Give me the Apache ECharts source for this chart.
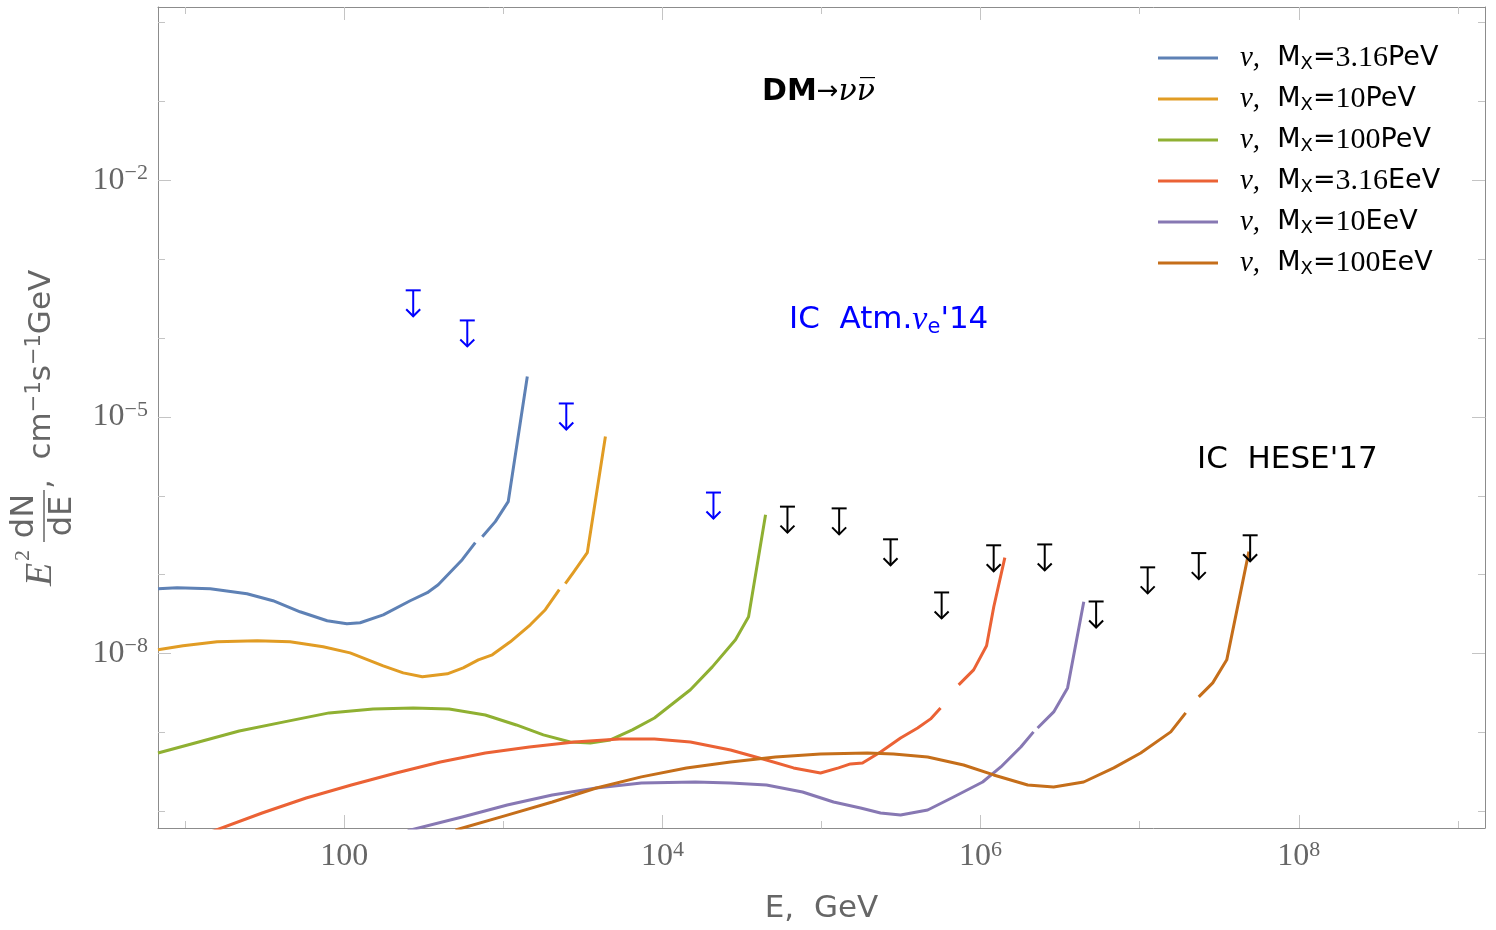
<!DOCTYPE html>
<html><head><meta charset="utf-8">
<script src="https://cdn.jsdelivr.net/npm/echarts@6/dist/echarts.min.js"></script>
<style>html,body{margin:0;padding:0;background:#fff}#c{width:1496px;height:930px}</style>
</head><body><div id="c"></div>
<script>
// ---------- data ----------
const massNum  = ['3.16', '10', '100', '3.16', '10', '100'];
const massUnit = ['PeV', 'PeV', 'PeV', 'EeV', 'EeV', 'EeV'];
const seriesNames = massNum.map((m, i) => 'ν, M_X=' + m + massUnit[i]);

// null marks a small break in a curve
const E_316PeV = [6.76, 8.91, 14.4, 24.5, 35.7, 52.8, 78.2, 104, 126, 176, 260, 333, 390, 552, 667, 700, 738, 891, 1074, 1416];
const F_316PeV = [6.64e-8, 6.84e-8, 6.64e-8, 5.74e-8, 4.68e-8, 3.39e-8, 2.61e-8, 2.39e-8, 2.46e-8, 3.10e-8, 4.68e-8, 5.92e-8, 7.46e-8, 1.55e-7, 2.55e-7, null, 3.03e-7, 4.71e-7, 8.43e-7, 3.26e-5];

const E_10PeV = [6.76, 9.71, 15.9, 28.4, 45.7, 73.8, 109, 176, 235, 310, 445, 560, 697, 853, 1107, 1479, 1837, 2249, 2350, 2455, 2754, 3373, 4385];
const F_10PeV = [1.117e-8, 1.256e-8, 1.413e-8, 1.452e-8, 1.413e-8, 1.219e-8, 1.023e-8, 7.0e-9, 5.70e-9, 5.08e-9, 5.55e-9, 6.61e-9, 8.34e-9, 9.66e-9, 1.413e-8, 2.32e-8, 3.60e-8, 6.46e-8, null, 7.69e-8, 1.06e-7, 1.90e-7, 5.64e-6];

const E_100PeV = [6.76, 11.56, 21.9, 42.0, 80.5, 152, 272, 457, 771, 1208, 1786, 2636, 3524, 4710, 6471, 8913, 15000, 20600, 28800, 34800, 44500];
const F_100PeV = [5.51e-10, 7.38e-10, 1.047e-9, 1.365e-9, 1.774e-9, 1.99e-9, 2.05e-9, 1.99e-9, 1.67e-9, 1.247e-9, 9.33e-10, 7.60e-10, 7.38e-10, 8.05e-10, 1.079e-9, 1.53e-9, 3.48e-9, 6.79e-9, 1.496e-8, 2.93e-8, 5.77e-7];

const E_316EeV = [14.1, 30.5, 57.7, 111, 212, 402, 771, 1459, 2799, 5370, 8913, 15000, 26800, 45100, 66700, 98600, 128000, 152000, 181000, 235000, 314000, 402000, 485000, 560000, 640000, 728000, 904000, 1.09e6, 1.21e6, 1.42e6];
const F_316EeV = [5.37e-11, 9.55e-11, 1.479e-10, 2.16e-10, 3.07e-10, 4.24e-10, 5.51e-10, 6.56e-10, 7.60e-10, 8.30e-10, 8.30e-10, 7.60e-10, 6.01e-10, 4.49e-10, 3.56e-10, 3.07e-10, 3.56e-10, 4.00e-10, 4.11e-10, 5.68e-10, 8.53e-10, 1.143e-9, 1.489e-9, 2.05e-9, null, 4.02e-9, 6.22e-9, 1.256e-8, 3.93e-8, 1.644e-7];

const E_10EeV = [251, 552, 1059, 2032, 3846, 7379, 16100, 26800, 45100, 76000, 119000, 176000, 235000, 314000, 465000, 676000, 1.03e6, 1.34e6, 1.79e6, 2.15e6, 2.21e6, 2.28e6, 2.88e6, 3.52e6, 4.45e6];
const F_10EeV = [5.70e-11, 8.49e-11, 1.205e-10, 1.614e-10, 1.982e-10, 2.29e-10, 2.36e-10, 2.29e-10, 2.16e-10, 1.762e-10, 1.315e-10, 1.104e-10, 9.55e-11, 8.99e-11, 1.042e-10, 1.524e-10, 2.36e-10, 3.66e-10, 6.56e-10, 1.019e-9, null, 1.143e-9, 1.824e-9, 3.68e-9, 4.54e-8];

const E_100EeV = [501, 1059, 2032, 3846, 7379, 14160, 26800, 51400, 98600, 194500, 283800, 464500, 781600, 1.208e6, 1.977e6, 2.877e6, 4.446e6, 6.871e6, 1.014e7, 1.567e7, 1.945e7, 2.14e7, 2.35e7, 2.877e7, 3.524e7, 4.853e7];
const F_100EeV = [5.81e-11, 8.99e-11, 1.315e-10, 1.982e-10, 2.74e-10, 3.56e-10, 4.24e-10, 4.90e-10, 5.35e-10, 5.51e-10, 5.35e-10, 4.90e-10, 3.88e-10, 2.90e-10, 2.16e-10, 2.04e-10, 2.36e-10, 3.56e-10, 5.51e-10, 1.019e-9, 1.774e-9, null, 2.83e-9, 4.26e-9, 8.34e-9, 1.96e-7];

// upper limits
const atmE  = [271.6, 594, 2489, 20940];
const atmF  = [4.02e-4, 1.67e-4, 1.48e-5, 1.10e-6];
const heseE = [61100, 129100, 271600, 568900, 1.208e6, 2.529e6, 5.321e6, 1.122e7, 2.350e7, 4.943e7];
const heseF = [7.29e-7, 6.93e-7, 2.81e-7, 5.96e-8, 2.36e-7, 2.42e-7, 4.58e-8, 1.24e-7, 1.88e-7, 3.16e-7];

// ticks
const xMajorTicks = [100, 1e4, 1e6, 1e8];
const xMinorTicks = [10, 1e3, 1e5, 1e7, 1e9];
const yMajorTicks = [1e-8, 1e-5, 1e-2];
const yMinorTicks = [1e-10, 1e-9, 1e-7, 1e-6, 1e-4, 1e-3, 1e-1, 1];

// ---------- style ----------
const colors = ['#5E81B5', '#E19C24', '#8FB032', '#EB6235', '#8778B3', '#C56E1A'];
const curves = [[E_316PeV, F_316PeV], [E_10PeV, F_10PeV], [E_100PeV, F_100PeV], [E_316EeV, F_316EeV], [E_10EeV, F_10EeV], [E_100EeV, F_100EeV]];
const X_MIN = Math.pow(10, 0.83), X_MAX = Math.pow(10, 9.17);
const Y_MIN = Math.pow(10, -10.21), Y_MAX = Math.pow(10, 0.195);
const frameColor = '#8c8c8c', tickColor = '#c4c4c4', labelColor = '#666666';
const SERIF = 'Liberation Serif', SANS = 'DejaVu Sans';

const supRich = {
  b: {fontFamily: SERIF, fontSize: 32, color: labelColor, lineHeight: 36},
  s: {fontFamily: SERIF, fontSize: 22, color: labelColor, lineHeight: 22, verticalAlign: 'top'}
};
function expOf(v) { return Math.round(Math.log10(v)); }

function mkAxis(kind, pos, ticks, len, showLine, label) {
  const isX = kind === 'x';
  return {
    type: 'log', logBase: 10, position: pos, gridIndex: 0,
    min: isX ? X_MIN : Y_MIN, max: isX ? X_MAX : Y_MAX,
    axisLine: {show: showLine, onZero: false, lineStyle: {color: frameColor, width: 1}},
    axisTick: {show: true, inside: true, length: len, customValues: ticks, lineStyle: {color: tickColor, width: 1}},
    minorTick: {show: false}, splitLine: {show: false}, minorSplitLine: {show: false},
    axisLabel: label || {show: false}
  };
}

const xLabel = {
  show: true, customValues: xMajorTicks, margin: 11,
  formatter: v => { const e = expOf(v); return e === 2 ? '{b|100}' : '{b|10}{s|' + e + '}'; },
  rich: supRich
};
const yLabel = {
  show: true, customValues: yMajorTicks, margin: 10,
  formatter: v => '{b|10}{s|−' + (-expOf(v)) + '}',
  rich: supRich
};

const xAxes = [
  Object.assign(mkAxis('x', 'bottom', xMajorTicks, 13, true, xLabel), {
    name: 'E,  GeV', nameLocation: 'middle', nameGap: 65,
    nameTextStyle: {fontFamily: SANS, fontSize: 31, color: labelColor}
  }),
  mkAxis('x', 'bottom', xMinorTicks, 7, false),
  mkAxis('x', 'top', xMajorTicks, 13, true),
  mkAxis('x', 'top', xMinorTicks, 7, false)
];
const yAxes = [
  mkAxis('y', 'left', yMajorTicks, 13, true, yLabel),
  mkAxis('y', 'left', yMinorTicks, 7, false),
  mkAxis('y', 'right', yMajorTicks, 13, true),
  mkAxis('y', 'right', yMinorTicks, 7, false)
];

const lineSeries = curves.map((c, i) => ({
  type: 'line', name: seriesNames[i],
  data: c[0].map((e, j) => [e, c[1][j] == null ? '-' : c[1][j]]),
  xAxisIndex: 0, yAxisIndex: 0,
  symbol: 'none', showSymbol: false, connectNulls: false, clip: true,
  lineStyle: {width: 3, color: colors[i], join: 'round', cap: 'butt'}, itemStyle: {color: colors[i]},
  emphasis: {disabled: true}, z: 3
}));

function arrowSeries(E, F, color, name) {
  return {
    type: 'custom', name: name, coordinateSystem: 'cartesian2d', xAxisIndex: 0, yAxisIndex: 0,
    data: E.map((e, i) => [e, F[i]]), encode: {x: 0, y: 1}, silent: true, z: 4,
    renderItem: (params, api) => {
      const p = api.coord([api.value(0), api.value(1)]);
      const x = p[0], y = p[1];
      const st = {stroke: color, lineWidth: 2, fill: null};
      return {type: 'group', children: [
        {type: 'line', shape: {x1: x - 7.5, y1: y, x2: x + 7.5, y2: y}, style: st},
        {type: 'line', shape: {x1: x, y1: y, x2: x, y2: y + 26}, style: st},
        {type: 'polyline', shape: {points: [[x - 7, y + 19], [x, y + 26], [x + 7, y + 19]]}, style: st}
      ]};
    }
  };
}

const legendRich = {
  nu:  {fontFamily: SERIF, fontStyle: 'italic', fontSize: 29, color: '#000', lineHeight: 30, padding: [0, 0, 0, 17]},
  m:   {fontFamily: SANS, fontSize: 27, color: '#000', lineHeight: 30},
  sub: {fontFamily: SANS, fontSize: 18, color: '#000', lineHeight: 18, verticalAlign: 'bottom'},
  num: {fontFamily: SERIF, fontSize: 30, color: '#000', lineHeight: 30}
};

const option = {
  animation: false,
  backgroundColor: '#ffffff',
  grid: {left: 158, top: 7, right: 11, bottom: 102, containLabel: false},
  xAxis: xAxes,
  yAxis: yAxes,
  legend: {
    orient: 'vertical', left: 1158, top: 43, padding: 0, itemWidth: 60, itemHeight: 3, itemGap: 11,
    icon: 'rect', selectedMode: false, data: seriesNames,
    formatter: name => {
      const i = seriesNames.indexOf(name);
      return '{nu|ν,}{m|  M}{sub|X}{m|=}{num|' + massNum[i] + '}{m|' + massUnit[i] + '}';
    },
    textStyle: {rich: legendRich}
  },
  series: lineSeries.concat([
    arrowSeries(atmE, atmF, '#0000ff', "IC Atm. νe'14"),
    arrowSeries(heseE, heseF, '#000000', "IC HESE'17")
  ]),
  graphic: [
    {type: 'text', x: 762, y: 92, style: {
      text: '{b|DM}{a|→}{n|νν\u0305}', verticalAlign: 'middle', align: 'left',
      rich: {
        b: {fontFamily: SANS, fontWeight: 'bold', fontSize: 30, fill: '#000', lineHeight: 36},
        a: {fontFamily: SANS, fontSize: 26, fill: '#000', lineHeight: 36},
        n: {fontFamily: 'DejaVu Serif', fontStyle: 'italic', fontSize: 30, fill: '#000', lineHeight: 36}
      }}},
    {type: 'text', x: 789, y: 320, style: {
      text: "{t|IC  Atm.}{n|ν}{e|e}{t|'14}", verticalAlign: 'middle', align: 'left',
      rich: {
        t: {fontFamily: SANS, fontSize: 31, fill: '#0000ff', lineHeight: 36},
        n: {fontFamily: SERIF, fontStyle: 'italic', fontSize: 34, fill: '#0000ff', lineHeight: 36},
        e: {fontFamily: SANS, fontSize: 21, fill: '#0000ff', lineHeight: 21, verticalAlign: 'bottom'}
      }}},
    {type: 'text', x: 1197, y: 460, style: {
      text: "IC  HESE'17", verticalAlign: 'middle', align: 'left',
      fontFamily: SANS, fontSize: 31, fill: '#000'}},
    {type: 'group', x: 53, y: 586, rotation: Math.PI / 2, children: [
      {type: 'text', x: 0, y: -12, style: {text: 'E', fontFamily: SERIF, fontStyle: 'italic', fontSize: 38, fill: labelColor, align: 'left', verticalAlign: 'middle'}},
      {type: 'text', x: 25, y: -30, style: {text: '2', fontFamily: SERIF, fontSize: 22, fill: labelColor, align: 'left', verticalAlign: 'middle'}},
      {type: 'text', x: 70, y: -28, style: {text: 'dN', fontFamily: SANS, fontSize: 32, fill: labelColor, align: 'center', verticalAlign: 'middle'}},
      {type: 'line', shape: {x1: 44, y1: -9, x2: 96, y2: -9}, style: {stroke: labelColor, lineWidth: 1.5}},
      {type: 'text', x: 70, y: 10, style: {text: 'dE', fontFamily: SANS, fontSize: 32, fill: labelColor, align: 'center', verticalAlign: 'middle'}},
      {type: 'text', x: 97, y: -11, style: {
        text: '{t|,  cm}{s|−1}{t|s}{s|−1}{t|GeV}', align: 'left', verticalAlign: 'middle',
        rich: {
          t: {fontFamily: SANS, fontSize: 31, fill: labelColor, lineHeight: 36},
          s: {fontFamily: SANS, fontSize: 21, fill: labelColor, lineHeight: 21, verticalAlign: 'top'}
        }}}
    ]}
  ]
};

const chart = echarts.init(document.getElementById('c'), null, {renderer: 'canvas'});
chart.setOption(option);
</script>
</body></html>
